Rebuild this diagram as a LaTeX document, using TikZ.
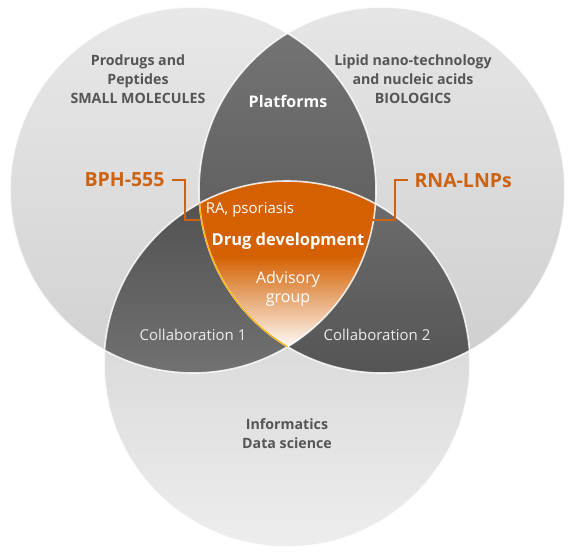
\documentclass[tikz,border=0pt]{standalone}
\usepackage{fontspec}
\setmainfont{Open Sans}

\definecolor{txtgray}{RGB}{85,85,85}
\definecolor{drugorange}{RGB}{212,96,0}
\definecolor{linkorange}{RGB}{204,98,18}
\definecolor{lightline}{RGB}{235,235,235}

\begin{document}
\begin{tikzpicture}[x=1pt,y=-1pt,
  area/.style={font=\fontsize{14.2}{19}\selectfont\bfseries,text=txtgray,align=center},
  inner/.style={font=\fontsize{16}{19}\selectfont,text=white,align=center},
  hit/.style={font=\fontsize{19.5}{20}\selectfont\bfseries,text=linkorange},
  link/.style={linkorange,line width=1.8pt}]
\useasboundingbox (0,0) rectangle (572,554);

\coordinate (L) at (193,190);
\coordinate (R) at (382,190);
\coordinate (B) at (287,364);

% light discs
\shade[top color=gray!18,bottom color=gray!36] (L) circle (183pt);
\shade[top color=gray!20,bottom color=gray!38] (R) circle (183pt);
\shade[top color=gray!40,bottom color=gray!14] (B) circle (183pt);

% pairwise overlaps
\begin{scope}
  \clip (L) circle (183pt);
  \shade[top color={rgb,255:red,118;green,118;blue,118},bottom color={rgb,255:red,80;green,80;blue,80}] (R) circle (183pt);
\end{scope}
\begin{scope}
  \clip (L) circle (183pt);
  \shade[top color={rgb,255:red,78;green,78;blue,78},bottom color={rgb,255:red,145;green,145;blue,145}] (B) circle (183pt);
\end{scope}
\begin{scope}
  \clip (R) circle (183pt);
  \shade[top color={rgb,255:red,110;green,110;blue,110},bottom color={rgb,255:red,62;green,62;blue,62}] (B) circle (183pt);
\end{scope}

% triple overlap
\begin{scope}
  \clip (L) circle (183pt);
  \clip (R) circle (183pt);
  \clip (B) circle (183pt);
  \fill[drugorange] (150,150) rectangle (430,256);
  \shade[top color=drugorange,bottom color=white] (150,255) rectangle (430,350);
\end{scope}

% outlines
\foreach \C in {L,R,B}
  \draw[white,line width=1.6pt,opacity=0.85] (\C) circle (183pt);
\begin{scope}
  \clip (L) circle (183pt);
  \clip (B) circle (183pt);
  \draw[orange!60!yellow,line width=1.2pt] (R) circle (183pt);
\end{scope}

% texts
\node[area] (small) at (138,79) {Prodrugs and\\Peptides\\SMALL MOLECULES};
\node[area] (bio) at (413,79) {Lipid nano-technology\\and nucleic acids\\BIOLOGICS};
\node[area] (info) at (287,434) {Informatics\\Data science};
\node[inner,font=\fontsize{16}{19}\selectfont\bfseries] (plat) at (288,101) {Platforms};
\node[inner,font=\fontsize{15}{19}\selectfont] (ra) at (250,210) {RA, psoriasis};
\node[inner,font=\fontsize{16.5}{19}\selectfont\bfseries] (drug) at (288,241) {Drug development};
\node[inner] (advice) at (288,289) {Advisory\\group};
\node[inner,font=\fontsize{15}{19}\selectfont,text=lightline] (col1) at (193,335) {Collaboration 1};
\node[inner,font=\fontsize{15}{19}\selectfont,text=lightline] (col2) at (377,335) {Collaboration 2};
\node[hit,anchor=east] (bph) at (168,180) {BPH-555};
\node[hit,anchor=west] (rna) at (411,181) {RNA-LNPs};

% brackets
\coordinate (bphEnd) at (200,220);
\coordinate (rnaEnd) at (370,220);
\draw[link] (bph.east) ++(4,0) -- ++(13,0) |- (bphEnd);
\draw[link] (rna.west) ++(-3,-1) -- ++(-13,0) |- (rnaEnd);
\end{tikzpicture}
\end{document}
